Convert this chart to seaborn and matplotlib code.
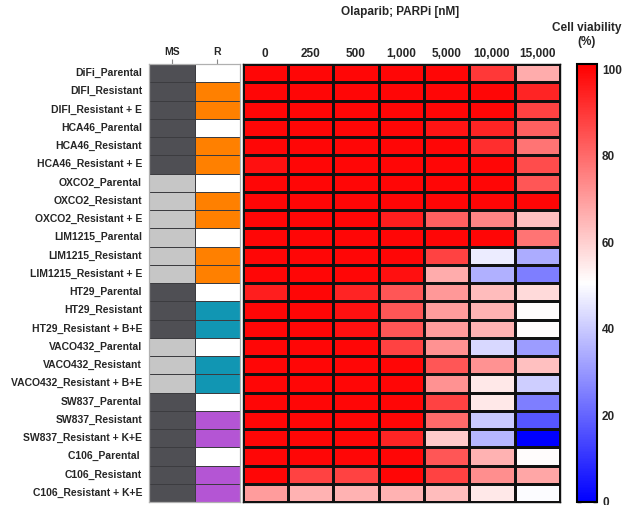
import numpy as np
import pandas as pd
import matplotlib
matplotlib.use("Agg")
import matplotlib.pyplot as plt
from matplotlib.colors import ListedColormap
import seaborn as sns

sns.set_style("white")
plt.rcParams['font.family'] = ['Liberation Sans', 'DejaVu Sans']
plt.rcParams['font.weight'] = 'bold'

row_labels = [
    "DiFi_Parental", "DIFI_Resistant", "DIFI_Resistant + E",
    "HCA46_Parental", "HCA46_Resistant", "HCA46_Resistant + E",
    "OXCO2_Parental", "OXCO2_Resistant", "OXCO2_Resistant + E",
    "LIM1215_Parental", "LIM1215_Resistant", "LIM1215_Resistant + E",
    "HT29_Parental", "HT29_Resistant", "HT29_Resistant + B+E",
    "VACO432_Parental", "VACO432_Resistant", "VACO432_Resistant + B+E",
    "SW837_Parental", "SW837_Resistant", "SW837_Resistant + K+E",
    "C106_Parental ", "C106_Resistant", "C106_Resistant + K+E",
]
dose_labels = ["0", "250", "500", "1,000", "5,000", "10,000", "15,000"]
ann_labels = ["MS", "R"]

# MS status: 0 = dark (MSS), 1 = light (MSI)
ms_status = [0, 0, 0, 0, 0, 0, 1, 1, 1, 1, 1, 1,
             0, 0, 0, 1, 1, 1, 0, 0, 0, 0, 0, 0]
# Resistance group: 2 = parental (white), 3 = orange, 4 = teal, 5 = purple
r_group = [2, 3, 3, 2, 3, 3, 2, 3, 3, 2, 3, 3,
           2, 4, 4, 2, 4, 4, 2, 5, 5, 2, 5, 5]

viability = [
    [100, 100, 100, 100, 100, 90, 67],
    [100, 100, 100, 100, 100, 100, 94],
    [100, 100, 100, 100, 100, 100, 88],
    [100, 100, 100, 100, 97, 94, 82],
    [100, 100, 100, 100, 100, 92, 78],
    [98, 100, 100, 100, 100, 100, 86],
    [100, 100, 100, 100, 100, 100, 84],
    [100, 100, 100, 100, 100, 100, 100],
    [100, 100, 100, 95, 82, 75, 63],
    [100, 100, 100, 100, 100, 100, 78],
    [100, 100, 100, 100, 88, 47, 34],
    [100, 100, 100, 98, 67, 35, 25],
    [95, 100, 94, 84, 71, 64, 58],
    [100, 100, 98, 84, 70, 66, 51],
    [100, 100, 98, 84, 70, 66, 51],
    [100, 100, 100, 88, 72, 43, 31],
    [100, 100, 100, 100, 84, 72, 63],
    [100, 100, 100, 100, 72, 55, 41],
    [100, 100, 100, 100, 88, 55, 25],
    [100, 100, 100, 100, 80, 40, 17],
    [100, 100, 100, 94, 61, 36, 0],
    [100, 100, 100, 100, 84, 66, 51],
    [100, 88, 88, 100, 88, 73, 68],
    [70, 66, 66, 66, 64, 55, 50],
]

ann_colors = ["#4f4f54", "#c6c6c6", "#ffffff", "#ff8000", "#1196b3", "#b455d4"]

df = pd.DataFrame(viability, index=row_labels, columns=dose_labels)
ann = pd.DataFrame({"MS": ms_status, "R": r_group}, index=row_labels)[ann_labels]

W, H = 622, 505
fig = plt.figure(figsize=(W / 100, H / 100), dpi=100)
bottom = 1 - 502 / H
height = 438 / H
ax_ann = fig.add_axes([149 / W, bottom, 91 / W, height])
ax_hm = fig.add_axes([242.5 / W, bottom, 317.5 / W, height])
ax_cb = fig.add_axes([577 / W, bottom, 19.5 / W, height])

sns.heatmap(ann, ax=ax_ann, cmap=ListedColormap(ann_colors), vmin=-0.5, vmax=5.5,
            cbar=False, linewidths=0.6, linecolor="#3c3c40")
ax_ann.xaxis.tick_top()
ax_ann.set_xticklabels(ann_labels, fontsize=7.5, fontweight="bold", rotation=0)
ax_ann.set_yticklabels(row_labels, fontsize=7.5, fontweight="bold", rotation=0)
ax_ann.tick_params(axis="both", which="both", length=3.5, width=0.8, color="#888888",
                   pad=1.5, direction="out")
ax_ann.set_xlabel("")
ax_ann.set_ylabel("")
for s in ax_ann.spines.values():
    s.set_visible(True)
    s.set_color("#b0b0b0")
    s.set_linewidth(0.9)

sns.heatmap(df, ax=ax_hm, cmap="bwr", vmin=0, vmax=101.2, linewidths=0.8,
            linecolor="#111111", cbar_ax=ax_cb,
            cbar_kws={"ticks": [0, 20, 40, 60, 80, 100]})
ax_hm.xaxis.tick_top()
ax_hm.set_xticklabels(dose_labels, fontsize=8.5, fontweight="bold", rotation=0)
ax_hm.set_yticks([])
ax_hm.tick_params(axis="x", length=3, width=0.8, color="#222222", direction="in", pad=3)
ax_hm.set_xlabel("")
ax_hm.set_ylabel("")
for s in ax_hm.spines.values():
    s.set_visible(True)
    s.set_color("#111111")
    s.set_linewidth(1.0)

ax_cb.tick_params(axis="y", which="both", direction="in", length=3, width=1.0,
                  left=True, right=True, labelsize=8.5, pad=4, color="black")
for lab in ax_cb.get_yticklabels():
    lab.set_fontweight("bold")
cb = ax_hm.collections[0].colorbar
cb.outline.set_edgecolor("black")
cb.outline.set_linewidth(1.5)

fig.text(400 / W, 1 - 12 / H, "Olaparib; PARPi [nM]", ha="center", va="center",
         fontsize=8.5, fontweight="bold")
fig.text(587 / W, 1 - 35 / H, "Cell viability\n(%)", ha="center", va="center",
         fontsize=8.5, fontweight="bold", linespacing=1.3)

fig.savefig("out.png", dpi=100)
